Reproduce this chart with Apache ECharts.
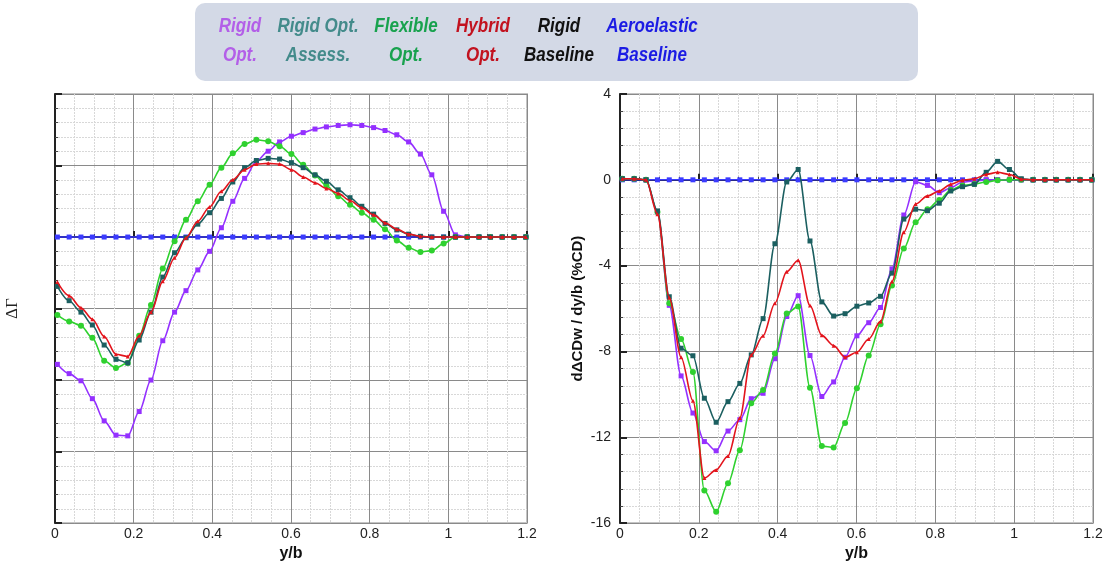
<!DOCTYPE html>
<html>
<head>
<meta charset="utf-8">
<script src="https://cdn.jsdelivr.net/npm/echarts@6/dist/echarts.min.js"></script>
<style>
  html, body { margin: 0; padding: 0; background: #fff; }
  #chart { width: 1107px; height: 567px; }
</style>
</head>
<body>
<div id="chart"></div>
<script>
// spanwise stations (y/b) where the markers sit
const xs = [0.006, 0.036, 0.066, 0.095, 0.125, 0.155, 0.185, 0.214, 0.244, 0.274,
  0.304, 0.333, 0.363, 0.393, 0.423, 0.452, 0.482, 0.512, 0.542, 0.571,
  0.601, 0.631, 0.661, 0.69, 0.72, 0.75, 0.78, 0.81, 0.839, 0.869,
  0.899, 0.929, 0.958, 0.988, 1.018, 1.048, 1.078, 1.107, 1.137, 1.167, 1.197];

// left panel: delta Gamma
const gamRigidOpt = [-1.78, -1.91, -2.01, -2.26, -2.57, -2.77, -2.78, -2.44, -2.0, -1.45,
  -1.05, -0.75, -0.46, -0.20, 0.13, 0.50, 0.82, 1.06, 1.20, 1.33,
  1.41, 1.46, 1.51, 1.54, 1.56, 1.57, 1.56, 1.53, 1.49, 1.43,
  1.33, 1.16, 0.87, 0.36, 0.03, 0, 0, 0, 0, 0, 0];
const gamAssess = [-0.69, -0.89, -1.05, -1.23, -1.51, -1.71, -1.76, -1.44, -1.05, -0.56,
  -0.22, -0.01, 0.18, 0.34, 0.54, 0.77, 0.97, 1.07, 1.10, 1.09,
  1.04, 0.97, 0.87, 0.78, 0.66, 0.55, 0.43, 0.32, 0.19, 0.10,
  0.04, 0.01, 0, 0, 0, 0, 0, 0, 0, 0, 0];
const gamFlexOpt = [-1.09, -1.18, -1.24, -1.41, -1.73, -1.83, -1.76, -1.38, -0.95, -0.44,
  -0.06, 0.24, 0.50, 0.73, 0.97, 1.17, 1.30, 1.36, 1.34, 1.27,
  1.16, 1.01, 0.86, 0.72, 0.57, 0.45, 0.34, 0.24, 0.11, -0.05,
  -0.15, -0.21, -0.19, -0.09, 0, 0, 0, 0, 0, 0, 0];
const gamHybrid = [-0.63, -0.82, -0.99, -1.15, -1.39, -1.64, -1.67, -1.38, -1.05, -0.62,
  -0.29, -0.01, 0.22, 0.42, 0.64, 0.80, 0.94, 1.02, 1.03, 1.02,
  0.94, 0.84, 0.76, 0.68, 0.61, 0.51, 0.41, 0.31, 0.20, 0.11,
  0.04, 0.01, 0, 0, 0, 0, 0, 0, 0, 0, 0];
const gamBaseline = [0, 0, 0, 0, 0, 0, 0, 0, 0, 0, 0, 0, 0, 0, 0, 0, 0, 0, 0, 0,
  0, 0, 0, 0, 0, 0, 0, 0, 0, 0, 0, 0, 0, 0, 0, 0, 0, 0, 0, 0, 0];

// right panel: d(delta CDw)/d(y/b) in %CD
const cdRigidOpt = [0.05, 0.05, 0, -1.5, -5.85, -9.14, -10.87, -12.2, -12.63, -11.71,
  -11.18, -10.2, -9.95, -8.34, -6.37, -5.4, -8.19, -10.1, -9.42, -8.27,
  -7.27, -6.66, -5.95, -4.15, -1.64, -0.09, -0.26, -0.6, -0.37, -0.1,
  -0.05, -0.01, 0, 0, 0, 0, 0, 0, 0, 0, 0];
const cdAssess = [0.05, 0.05, 0, -1.45, -5.45, -7.85, -8.2, -10.18, -11.3, -10.34,
  -9.49, -8.16, -6.47, -2.98, -0.1, 0.48, -2.85, -5.69, -6.35, -6.24,
  -5.89, -5.74, -5.43, -4.35, -1.83, -1.37, -1.44, -1.09, -0.52, -0.32,
  -0.21, 0.35, 0.86, 0.48, 0.05, 0, 0, 0, 0, 0, 0];
const cdFlexOpt = [0.05, 0.05, 0, -1.5, -5.75, -7.42, -8.96, -14.48, -15.47, -14.14,
  -12.6, -10.41, -9.8, -8.1, -6.23, -5.9, -9.69, -12.41, -12.48, -11.33,
  -9.72, -8.19, -6.73, -4.92, -3.2, -1.98, -1.37, -0.94, -0.48, -0.26,
  -0.2, -0.1, -0.02, 0, 0, 0, 0, 0, 0, 0, 0];
const cdHybrid = [0.05, 0.05, 0, -1.6, -5.5, -8.27, -10.3, -13.9, -13.52, -12.87,
  -11.1, -8.16, -7.27, -5.75, -4.28, -3.75, -5.86, -7.25, -7.73, -8.27,
  -8.04, -7.42, -6.6, -4.74, -2.44, -1.13, -0.75, -0.52, -0.21, -0.02,
  0.05, 0.25, 0.35, 0.25, 0.03, 0, 0, 0, 0, 0, 0];
const cdBaseline = gamBaseline;

const xTicks = { min: 0, max: 1.2, interval: 0.2 };
const gamTicks = { min: -4, max: 2, interval: 1 };
const cdTicks = { min: -16, max: 4, interval: 4 };

const pairs = arr => xs.map((x, i) => [x, arr[i]]);

const C = {
  rigidOpt: '#9430ff',
  assess: '#1b5f60',
  flex: '#2fd12f',
  hybrid: '#e3141c',
  base: '#111111',
  aero: '#3b3bff'
};

function xAxisFor(idx) {
  return {
    type: 'value', gridIndex: idx, ...xTicks,
    name: 'y/b', nameLocation: 'middle', nameGap: 15,
    nameTextStyle: { fontFamily: 'Liberation Sans', fontWeight: 'bold', fontSize: 16, color: '#111' },
    axisLine: { lineStyle: { color: '#222', width: 2 } },
    axisTick: { inside: true, length: 6, lineStyle: { color: '#222', width: 2 } },
    minorTick: { show: true, splitNumber: 4, length: 3, lineStyle: { color: '#444' } },
    axisLabel: { fontFamily: 'Liberation Sans', fontSize: 14, color: '#222', margin: 4,
      formatter: v => String(+v.toFixed(1)) },
    splitLine: { lineStyle: { color: '#8a8a8a', width: 1 } },
    minorSplitLine: { show: true, lineStyle: { color: '#d8d8d8', type: [2, 1] } }
  };
}

function yAxisFor(idx, ticks, name, showLabels) {
  return {
    type: 'value', gridIndex: idx, ...ticks,
    name: name, nameLocation: 'middle',
    nameGap: showLabels ? 35 : 34,
    nameTextStyle: showLabels
      ? { fontFamily: 'Liberation Sans', fontWeight: 'bold', fontSize: 15, color: '#111' }
      : { fontFamily: 'Liberation Serif', fontSize: 17, color: '#222' },
    axisLine: { onZero: false, lineStyle: { color: '#222', width: 2 } },
    axisTick: { inside: true, length: 7, lineStyle: { color: '#222', width: 2 } },
    minorTick: { show: true, splitNumber: 5, length: 3, lineStyle: { color: '#444' } },
    axisLabel: { show: showLabels, fontFamily: 'Liberation Sans', fontSize: 14, color: '#222', margin: 9 },
    splitLine: { lineStyle: { color: '#8a8a8a', width: 1 } },
    minorSplitLine: { show: true, lineStyle: { color: '#d8d8d8', type: [2, 1] } }
  };
}

function line(name, idx, arr, color, symbol, size, z) {
  return {
    name: name, type: 'line', xAxisIndex: idx, yAxisIndex: idx,
    data: pairs(arr), smooth: 0.3, smoothMonotone: 'x',
    symbol: symbol, symbolSize: size, showAllSymbol: true,
    lineStyle: { color: color, width: 1.6 },
    itemStyle: { color: color },
    z: z, animation: false
  };
}

// narrow-looking legend text: smaller font stretched vertically
const legendFont = 'italic bold 17px "Liberation Sans", Arial, sans-serif';
const legendItems = [
  { text: 'Rigid\nOpt.', x: 240, color: '#b35fe8' },
  { text: 'Rigid Opt.\nAssess.', x: 318, color: '#438b8b' },
  { text: 'Flexible\nOpt.', x: 406, color: '#18a24e' },
  { text: 'Hybrid\nOpt.', x: 483, color: '#c2121f' },
  { text: 'Rigid\nBaseline', x: 559, color: '#111111' },
  { text: 'Aeroelastic\nBaseline', x: 652, color: '#1c1ce4' }
];

const chart = echarts.init(document.getElementById('chart'), null, { renderer: 'canvas' });
chart.setOption({
  backgroundColor: '#ffffff',
  animation: false,
  grid: [
    { left: 55, right: 580, top: 94, bottom: 38, show: true, borderColor: '#c4c4c4', borderWidth: 2 },
    { left: 620, right: 14, top: 94, bottom: 38, show: true, borderColor: '#c4c4c4', borderWidth: 2 }
  ],
  xAxis: [xAxisFor(0), xAxisFor(1)],
  yAxis: [
    yAxisFor(0, gamTicks, 'ΔΓ', false),
    yAxisFor(1, cdTicks, 'dΔCDw / dy/b (%CD)', true)
  ],
  graphic: [
    { type: 'rect', shape: { x: 195, y: 3, width: 723, height: 78, r: 10 },
      style: { fill: '#d3d9e6' } }
  ].concat(legendItems.map(it => ({
    type: 'text', x: it.x, y: 41, scaleY: 1.22,
    style: { text: it.text, fill: it.color, font: legendFont, align: 'center',
      verticalAlign: 'middle', lineHeight: 24 }
  }))),
  series: [
    line('Rigid Baseline', 0, gamBaseline, C.base, 'none', 0, 1),
    line('Aeroelastic Baseline', 0, gamBaseline, C.aero, 'rect', 5, 2),
    line('Rigid Opt.', 0, gamRigidOpt, C.rigidOpt, 'rect', 5, 3),
    line('Flexible Opt.', 0, gamFlexOpt, C.flex, 'circle', 6, 4),
    line('Rigid Opt. Assess.', 0, gamAssess, C.assess, 'rect', 5, 5),
    line('Hybrid Opt.', 0, gamHybrid, C.hybrid, 'triangle', 4, 6),

    line('Rigid Baseline', 1, cdBaseline, C.base, 'none', 0, 1),
    line('Aeroelastic Baseline', 1, cdBaseline, C.aero, 'rect', 5, 2),
    line('Rigid Opt.', 1, cdRigidOpt, C.rigidOpt, 'rect', 5, 3),
    line('Flexible Opt.', 1, cdFlexOpt, C.flex, 'circle', 6, 4),
    line('Rigid Opt. Assess.', 1, cdAssess, C.assess, 'rect', 5, 5),
    line('Hybrid Opt.', 1, cdHybrid, C.hybrid, 'triangle', 4, 6)
  ]
});
</script>
</body>
</html>
